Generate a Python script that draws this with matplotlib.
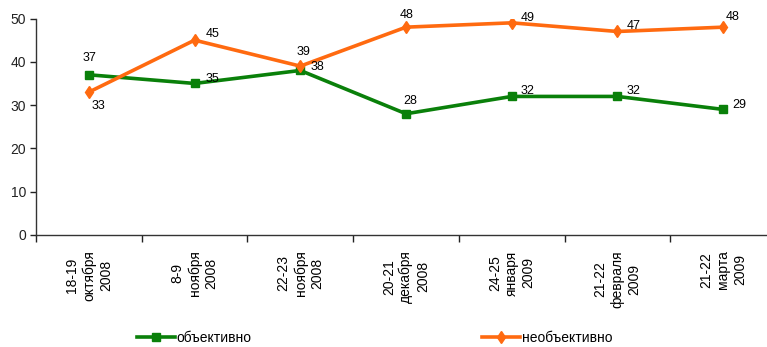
import matplotlib
matplotlib.use("Agg")
import matplotlib.pyplot as plt
import numpy as np

plt.rcParams['font.family'] = ['Liberation Sans', 'DejaVu Sans']

# Survey dates (day range, month, year)
dates = ["18-19\nоктября\n2008", "8-9\nноября\n2008", "22-23\nноября\n2008",
         "20-21\nдекабря\n2008", "24-25\nянваря\n2009", "21-22\nфевраля\n2009",
         "21-22\nмарта\n2009"]
objective = [37, 35, 38, 28, 32, 32, 29]
not_objective = [33, 45, 39, 48, 49, 47, 48]

# label offsets in pixels (dx, dy) for each point
objective_offsets = [(1, 17), (18, 4), (17, 3), (4, 13), (16, 5), (16, 5), (16, 4)]
not_objective_offsets = [(10, -14), (18, 6), (3, 14), (1, 12), (16, 5), (16, 5), (9, 10)]

green = '#0a800a'
orange = '#ff6a10'

W, H = 767, 347
fig = plt.figure(figsize=(W / 100, H / 100), dpi=100)
ax = fig.add_axes([36 / W, 1 - 235 / H, (776 - 36) / W, (235 - 18.5) / H])

x = np.arange(len(dates))
l1, = ax.plot(x, objective, color=green, lw=2.6, marker='s', ms=5.5,
              label='объективно')
l2, = ax.plot(x, not_objective, color=orange, lw=2.6, marker='d', ms=6,
              label='необъективно')

for xi, v, (dx, dy) in zip(x, objective, objective_offsets):
    ax.annotate(str(v), (xi, v), xytext=(dx, dy), textcoords='offset pixels',
                ha='center', va='center', fontsize=9)
for xi, v, (dx, dy) in zip(x, not_objective, not_objective_offsets):
    ax.annotate(str(v), (xi, v), xytext=(dx, dy), textcoords='offset pixels',
                ha='center', va='center', fontsize=9)

ax.set_xlim(-0.5, len(dates) - 0.5)
ax.set_ylim(0, 50)
ax.set_yticks(range(0, 51, 10))
ax.tick_params(axis='y', direction='out', length=4, width=1, labelsize=10,
               pad=3, colors='#222222')

# boundary ticks between categories, labels in the middle
ax.set_xticks(np.arange(-0.5, len(dates), 1.0))
ax.set_xticklabels([])
ax.set_xticks(x, minor=True)
ax.set_xticklabels(dates, minor=True, rotation=90, ha='center', va='top',
                   multialignment='center', fontsize=10, linespacing=1.25)
ax.tick_params(axis='x', which='major', direction='out', length=5, width=1,
               colors='#222222')
ax.tick_params(axis='x', which='minor', length=0, pad=11)

for side in ['top', 'right']:
    ax.spines[side].set_visible(False)
for side in ['left', 'bottom']:
    ax.spines[side].set_color('#333333')
    ax.spines[side].set_linewidth(1)

fig.legend(handles=[l1, l2], loc='center left',
           bbox_to_anchor=(137 / W, 1 - 338 / H), ncol=2, frameon=False,
           borderpad=0, borderaxespad=0, handlelength=2.7, handletextpad=0.15,
           columnspacing=16.6, fontsize=10)

fig.savefig('out.png', dpi=100)
